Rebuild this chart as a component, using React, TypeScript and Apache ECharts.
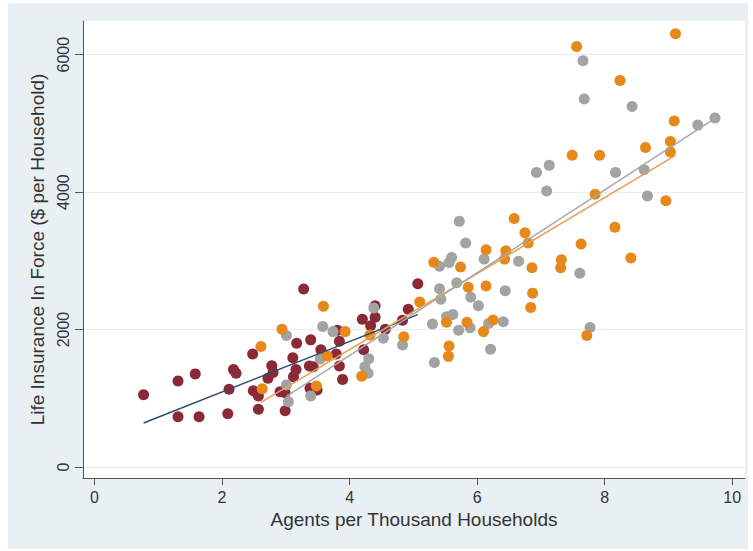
import React, { useEffect, useRef } from "react";
import * as echarts from "echarts";

// Group 1 (maroon)
const maroonX = [0.77,1.31,1.58,1.31,1.64,2.09,2.11,2.18,2.22,2.48,2.49,2.57,2.57,2.78,2.80,2.72,2.91,2.99,2.99,3.28,3.17,3.39,3.11,3.16,3.12,3.37,3.43,3.38,3.49,3.55,3.81,3.84,3.79,3.84,3.89,4.20,4.40,4.40,4.33,4.22,4.56,4.83,4.92,5.07];
const maroonY = [1050,1250,1355,730,730,775,1130,1420,1365,1645,1110,1035,840,1475,1375,1290,1095,1080,820,2590,1800,1850,1590,1420,1315,1470,1460,1145,1120,1705,1990,1830,1645,1470,1275,2150,2345,2180,2055,1705,2005,2135,2295,2665];

// Group 2 (orange)
const orangeX = [2.61,2.63,2.94,3.59,3.93,3.65,3.48,4.19,4.32,4.85,5.10,5.32,5.74,5.86,6.14,5.52,5.84,6.10,6.25,5.56,5.55,6.14,6.45,6.43,6.58,6.75,6.80,6.86,6.87,6.84,7.32,7.31,7.63,7.49,7.92,7.85,8.16,8.41,7.72,8.64,8.96,9.03,9.03,9.09,9.11,7.56,8.24];
const orangeY = [1755,1140,2005,2340,1970,1615,1180,1320,1920,1895,2400,2980,2910,2615,2635,2105,2105,1970,2140,1760,1610,3160,3145,3025,3615,3410,3260,2900,2530,2320,3015,2900,3245,4535,4535,3970,3490,3040,1915,4650,3875,4735,4585,5035,6305,6120,5625];

// Group 3 (gray)
const grayX = [3.01,3.58,3.74,4.38,4.53,4.83,3.54,4.30,4.24,4.29,3.01,3.04,3.39,5.41,5.56,5.60,5.72,5.82,6.11,6.65,5.41,5.43,5.68,5.90,6.02,6.44,5.30,5.52,5.62,5.71,5.89,6.18,6.41,6.21,5.33,7.61,7.77,6.93,7.13,7.09,8.17,8.62,8.67,7.66,7.68,8.43,9.46,9.73];
const grayY = [1915,2045,1970,2315,1875,1775,1570,1575,1460,1365,1195,950,1035,2920,2975,3050,3575,3260,3025,2995,2595,2440,2680,2470,2345,2565,2080,2185,2220,1990,2025,2090,2115,1715,1520,2820,2030,4285,4390,4015,4285,4325,3945,5910,5355,5245,4975,5080];

const xTicks = [0, 2, 4, 6, 8, 10];
const yTicks = [0, 2000, 4000, 6000];

const xTitle = "Agents per Thousand Households";
const yTitle = "Life Insurance In Force ($ per Household)";

function pairs(xs: number[], ys: number[]) {
  return xs.map((x, i) => [x, ys[i]]);
}

function fitLine(xs: number[], ys: number[]) {
  const n = xs.length;
  const mx = xs.reduce((a, b) => a + b, 0) / n;
  const my = ys.reduce((a, b) => a + b, 0) / n;
  let sxy = 0, sxx = 0;
  for (let i = 0; i < n; i++) {
    sxy += (xs[i] - mx) * (ys[i] - my);
    sxx += (xs[i] - mx) * (xs[i] - mx);
  }
  const b = sxy / sxx;
  const a = my - b * mx;
  const lo = Math.min(...xs);
  const hi = Math.max(...xs);
  return [[lo, a + b * lo], [hi, a + b * hi]];
}

const FONT = "'Liberation Sans', Arial, Helvetica, sans-serif";
const TEXT = "#333333";

export default function App() {
  const ref = useRef<HTMLDivElement>(null);
  useEffect(() => {
    if (!ref.current) return;
    const chart = echarts.init(ref.current, undefined, { renderer: "svg" });
    const scatter = (name: string, xs: number[], ys: number[], color: string) => ({
      name,
      type: "scatter",
      data: pairs(xs, ys),
      symbolSize: 11,
      itemStyle: { color, opacity: 1 },
      z: 3,
    });
    const line = (name: string, xs: number[], ys: number[], color: string) => ({
      name,
      type: "line",
      data: fitLine(xs, ys),
      symbol: "none",
      lineStyle: { color, width: 1.5 },
      z: 4,
    });
    chart.setOption({
      animation: false,
      backgroundColor: "#e9f0f3",
      textStyle: { fontFamily: FONT },
      grid: {
        left: 75,
        top: 18,
        right: 3,
        bottom: 71,
        show: true,
        backgroundColor: "#ffffff",
        borderWidth: 0,
      },
      xAxis: {
        type: "value",
        min: -0.18,
        max: 10.2,
        name: xTitle,
        nameLocation: "middle",
        nameGap: 30,
        nameTextStyle: { fontSize: 19, color: TEXT, fontFamily: FONT },
        axisLine: { show: true, onZero: false, lineStyle: { color: "#555555", width: 1 } },
        axisTick: { show: true, length: 7, customValues: xTicks, lineStyle: { color: "#555555" } },
        axisLabel: {
          customValues: xTicks,
          fontSize: 16,
          color: TEXT,
          margin: 11,
          fontFamily: FONT,
          formatter: (v: number) => String(v),
        },
        splitLine: { show: false },
      },
      yAxis: {
        type: "value",
        min: -160,
        max: 6490,
        name: yTitle,
        nameLocation: "middle",
        nameRotate: 90,
        nameGap: 34,
        nameTextStyle: { fontSize: 19, color: TEXT, fontFamily: FONT },
        axisLine: { show: true, onZero: false, lineStyle: { color: "#555555", width: 1 } },
        axisTick: { show: true, length: 8, customValues: yTicks, lineStyle: { color: "#555555" } },
        axisLabel: {
          customValues: yTicks,
          fontSize: 16,
          color: TEXT,
          rotate: 90,
          margin: 12,
          fontFamily: FONT,
          formatter: (v: number) => String(v),
        },
        splitLine: { show: true, lineStyle: { color: "#ebebeb", width: 1 } },
      },
      series: [
        scatter("maroon", maroonX, maroonY, "#8b2a37"),
        scatter("gray", grayX, grayY, "#a3a3a3"),
        scatter("orange", orangeX, orangeY, "#e6891a"),
        line("maroon fit", maroonX, maroonY, "#2d4c6c"),
        line("orange fit", orangeX, orangeY, "#e9a055"),
        line("gray fit", grayX, grayY, "#a8a8a8"),
      ],
    });
    return () => chart.dispose();
  }, []);
  return (
    <div
      ref={ref}
      style={{ position: "absolute", left: 8, top: 3, width: 740, height: 546, background: "#e9f0f3" }}
    />
  );
}
